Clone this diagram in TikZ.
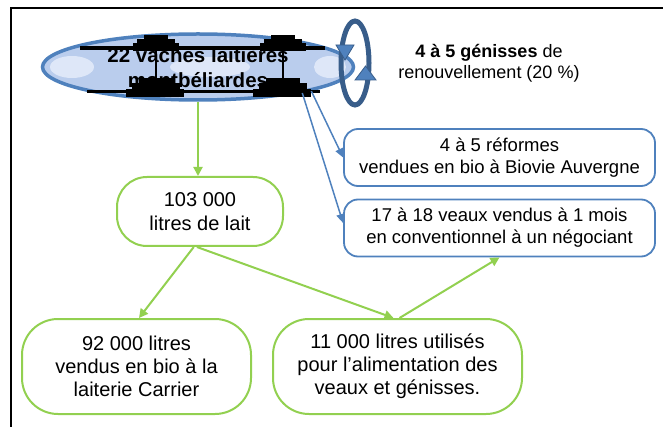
\documentclass[tikz,border=0pt]{standalone}
\usepackage{fontspec}
\setmainfont{Liberation Sans}
\usetikzlibrary{shapes.geometric,arrows.meta,calc}
\definecolor{boxblue}{RGB}{79,129,189}
\definecolor{ringblue}{RGB}{56,93,138}
\definecolor{leafgreen}{RGB}{146,208,80}
\definecolor{ellfill}{RGB}{186,205,237}
\definecolor{ellspot}{RGB}{222,231,248}
\tikzset{
  bluebox/.style={draw=boxblue, line width=1.8pt, rounded corners=14pt, minimum width=311pt, minimum height=57pt, inner sep=0pt, align=center, font=\fontsize{18.5}{22}\selectfont},
  greenbox/.style={draw=leafgreen, line width=2pt, align=center, inner sep=0pt, font=\fontsize{20}{23}\selectfont},
  bluearrow/.style={draw=boxblue, line width=1.5pt, -{Triangle[length=9pt,width=8pt]}},
  greenarrow/.style={draw=leafgreen, line width=2pt, -{Triangle[length=9pt,width=9pt]}},
  ringhead/.style={fill=boxblue, draw=ringblue, line width=0.8pt}
}
\begin{document}
\begin{tikzpicture}[x=1pt,y=-1pt]
\useasboundingbox (0,0) rectangle (663,427);
% frame
\draw[line width=1.3pt] (11,427) -- (11,8) -- (663,8);
% cows ellipse
\node[ellipse, draw=boxblue, line width=3.5pt, fill=ellfill, minimum width=311pt, minimum height=66pt, inner sep=0pt] (cows) at (198,67) {};
\fill[ellspot] (72,67) ellipse (22 and 11);
\fill[ellspot] (330,67) ellipse (16 and 11);
\fill[ellspot] (210,67) ellipse (40 and 10);
% black artifacts
\fill (80,46) rectangle (325,50);
\fill (87,90) rectangle (320,93);
\foreach \cx in {156,283}{
  \fill (\cx-12,35) rectangle (\cx+12,40);
  \fill (\cx-19,39) rectangle (\cx+19,44);
  \fill (\cx-23,43) rectangle (\cx+23,51);
  \draw[line width=1.2pt] (\cx,50) -- (\cx,80);
  \fill (\cx-17,78) rectangle (\cx+17,84);
  \fill (\cx-24,83) rectangle (\cx+24,90);
  \fill (\cx-30,89) rectangle (\cx+28,97);
}
\node[align=center, font=\bfseries\fontsize{20.5}{25}\selectfont] (cowstext) at (198,68) {22 vaches laitières\\montbéliardes};
% renewal ring
\draw[ringblue, line width=5pt] (355,63) ellipse (14 and 42);
\filldraw[ringhead] (336,45) -- (354,45) -- (345,60) -- cycle;
\filldraw[ringhead] (355,80) -- (376,80) -- (365.5,66) -- cycle;
\node[align=center, font=\fontsize{18}{21}\selectfont] (gen) at (489,63) {\textbf{4 à 5 génisses} de\\renouvellement (20~\%)};
% boxes
\node[bluebox] (ref) at (499.5,157.5) {4 à 5 réformes\\vendues en bio à Biovie Auvergne};
\node[bluebox] (veaux) at (499.5,228) {17 à 18 veaux vendus à 1 mois\\en conventionnel à un négociant};
\node[greenbox, rounded corners=30pt, minimum width=166pt, minimum height=69pt, font=\fontsize{20}{24}\selectfont] (lait) at (200,211.5) {103~000\\litres de lait};
\node[greenbox, rounded corners=36pt, minimum width=229pt, minimum height=95pt] (vente) at (136.5,366.5) {92~000 litres\\vendus en bio à la\\laiterie Carrier};
\node[greenbox, rounded corners=36pt, minimum width=249pt, minimum height=95pt] (usage) at (397.5,366.5) {11~000 litres utilisés\\pour l’alimentation des\\veaux et génisses.};
% connectors
\draw[greenarrow] (cows.south) -- (cows.south |- lait.north);
\draw[greenarrow] (lait.-100) -- ($(vente.north)+(2.5,0)$);
\draw[greenarrow] (lait.-95) -- ($(usage.north)+(-4,0)$);
\draw[greenarrow] ($(usage.north)+(2,0)$) -- (veaux.south);
\draw[bluearrow] (cows.-12) -- (ref.west);
\draw[bluearrow] (cows.-14) -- ($(veaux.west)+(0,-5)$);
\end{tikzpicture}
\end{document}
